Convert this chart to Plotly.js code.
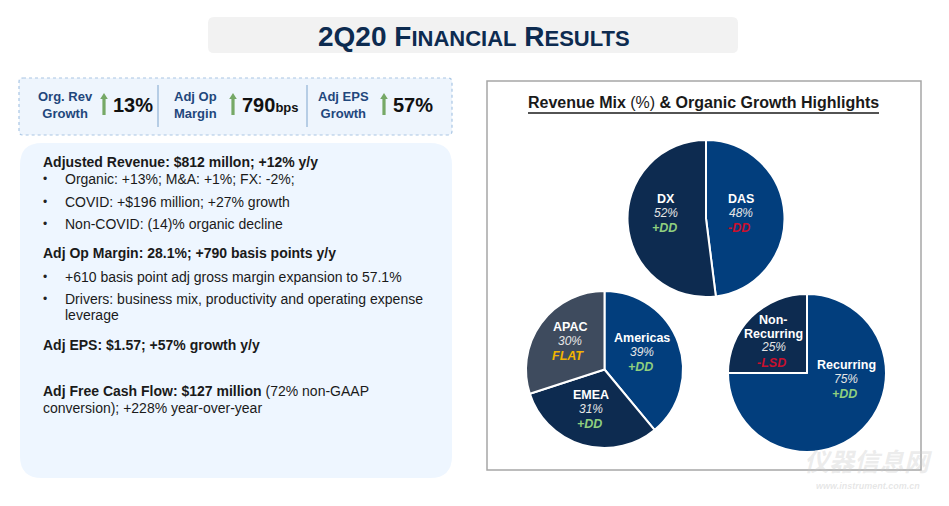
<!DOCTYPE html>
<html><head><meta charset="utf-8">
<script src="https://cdn.plot.ly/plotly-3.0.1.min.js"></script>
<style>html,body{margin:0;padding:0;background:#fff;}#chart{width:949px;height:506px;}</style>
</head><body><div id="chart"></div>
<script>
// ---------- data ----------
const segLabels = ['DAS', 'DX'];
const segValues = [48, 52];
const segGrowth = ['-DD', '+DD'];

const regionLabels = ['Americas', 'EMEA', 'APAC'];
const regionValues = [39, 31, 30];
const regionGrowth = ['+DD', '+DD', 'FLAT'];

const revTypeLabels = ['Recurring', 'Non-Recurring'];
const revTypeValues = [75, 25];
const revTypeGrowth = ['+DD', '-LSD'];

const kpiLabels = ['Org. Rev<br>Growth', 'Adj Op<br>Margin', 'Adj EPS<br>Growth'];
const kpiValues = ['13%', '790', '57%'];
const kpiUnits = ['', 'bps', ''];

const pageTitle = '2Q20 F<span style="font-size:22px">INANCIAL</span> R<span style="font-size:22px">ESULTS</span>';
const panelTitle = '<b>Revenue Mix</b> (%) <b>& Organic Growth Highlights</b>';

const bodyLines = [
  {t: '<b>Adjusted Revenue: $812 millon; +12% y/y</b>', y: 162},
  {t: 'Organic: +13%; M&A: +1%; FX: -2%;', y: 179, bullet: true},
  {t: 'COVID: +$196 million; +27% growth', y: 202, bullet: true},
  {t: 'Non-COVID: (14)% organic decline', y: 224, bullet: true},
  {t: '<b>Adj Op Margin: 28.1%; +790 basis points y/y</b>', y: 253},
  {t: '+610 basis point adj gross margin expansion to 57.1%', y: 277, bullet: true},
  {t: 'Drivers: business mix, productivity and operating expense', y: 299, bullet: true},
  {t: 'leverage', y: 315, indent: true},
  {t: '<b>Adj EPS: $1.57; +57% growth y/y</b>', y: 345},
  {t: '<b>Adj Free Cash Flow: $127 million</b> (72% non-GAAP', y: 391},
  {t: 'conversion); +228% year-over-year', y: 408}
];

// ---------- layout helpers ----------
const W = 949, H = 506;
const px = x => x / W;
const py = y => 1 - y / H;
const FONT = 'Liberation Sans, Arial, sans-serif';
const NAVY = '#0d2b50', BLUE = '#023e7d', SLATE = '#3e4b5e';
const growthColor = g => g === 'FLAT' ? '#f2b400' : (g.charAt(0) === '-' ? '#c8102e' : '#8fcf7f');

function roundRect(x0, y0, x1, y1, r) {
  const P = (x, y) => px(x) + ',' + py(y);
  return 'M' + P(x0 + r, y0) + ' L' + P(x1 - r, y0) + ' Q' + P(x1, y0) + ' ' + P(x1, y0 + r) +
    ' L' + P(x1, y1 - r) + ' Q' + P(x1, y1) + ' ' + P(x1 - r, y1) +
    ' L' + P(x0 + r, y1) + ' Q' + P(x0, y1) + ' ' + P(x0, y1 - r) +
    ' L' + P(x0, y0 + r) + ' Q' + P(x0, y0) + ' ' + P(x0 + r, y0) + ' Z';
}

const shapes = [];
const annotations = [];
function ann(text, x, y, opts) {
  annotations.push(Object.assign({
    text: text, x: px(x), y: py(y), xref: 'paper', yref: 'paper',
    showarrow: false, xanchor: 'center', yanchor: 'middle',
    font: {family: FONT, size: 13, color: '#1a1a1a'}
  }, opts || {}));
}

// title box
shapes.push({type: 'path', path: roundRect(208, 17, 738, 53, 6), xref: 'paper', yref: 'paper',
  fillcolor: '#f2f2f2', line: {width: 0}, layer: 'below'});
ann('<b>' + pageTitle + '</b>', 474, 36, {font: {family: FONT, size: 28, color: '#0d2b50'}});

// KPI box
shapes.push({type: 'path', path: roundRect(19, 78, 452, 135, 4), xref: 'paper', yref: 'paper',
  fillcolor: '#eef5fd', line: {color: '#a9c6e4', width: 1.2, dash: 'dot'}, layer: 'below'});
const kpiLabelX = [65, 195, 343];
const kpiArrowX = [104, 233, 384];
const kpiValueX = [111, 240, 391];
[158, 307].forEach(x => shapes.push({type: 'line', xref: 'paper', yref: 'paper',
  x0: px(x), x1: px(x), y0: py(85), y1: py(127), line: {color: '#a3bfdc', width: 1.5}}));
kpiLabels.forEach((lab, i) => {
  ann('<b>' + lab + '</b>', kpiLabelX[i], 105, {font: {family: FONT, size: 13, color: '#1f477c'}});
  const a = kpiArrowX[i];
  const P = (x, y) => px(x) + ',' + py(y);
  shapes.push({type: 'path', xref: 'paper', yref: 'paper', fillcolor: '#76a866', line: {width: 0},
    path: 'M' + P(a - 1.6, 115) + ' L' + P(a - 1.6, 99) + ' L' + P(a - 3.8, 99) + ' L' + P(a, 93) +
      ' L' + P(a + 3.8, 99) + ' L' + P(a + 1.6, 99) + ' L' + P(a + 1.6, 115) + ' Z'});
  const unit = kpiUnits[i] ? '<span style="font-size:13px">' + kpiUnits[i] + '</span>' : '';
  ann('<b>' + kpiValues[i] + unit + '</b>', kpiValueX[i], 105,
    {xanchor: 'left', font: {family: FONT, size: 20, color: '#111111'}});
});

// body box
shapes.push({type: 'path', path: roundRect(20, 143, 452, 478, 22), xref: 'paper', yref: 'paper',
  fillcolor: '#eef6ff', line: {width: 0}, layer: 'below'});
bodyLines.forEach(l => {
  if (l.bullet) ann('•', 45, l.y, {xanchor: 'center', font: {family: FONT, size: 12, color: '#222'}});
  ann(l.t, (l.bullet || l.indent) ? 63 : 41, l.y, {xanchor: 'left', align: 'left',
    font: {family: FONT, size: 14, color: '#1a1a1a'}});
});

// right panel
shapes.push({type: 'rect', xref: 'paper', yref: 'paper', x0: px(487), x1: px(921), y0: py(470), y1: py(81),
  fillcolor: '#ffffff', line: {color: '#a6a6a6', width: 1.5}, layer: 'below'});
ann(panelTitle, 703.5, 103, {font: {family: FONT, size: 16, color: '#1a1a1a'}});
shapes.push({type: 'line', xref: 'paper', yref: 'paper', x0: px(528), x1: px(879), y0: py(113), y1: py(113),
  line: {color: '#1a1a1a', width: 1.3}});

// pies
const pies = [
  {labels: segLabels, values: segValues, growth: segGrowth, colors: [BLUE, NAVY], cx: 706, cy: 218.5, r: 78.5,
    textPos: [[741, 199], [666, 199]]},
  {labels: regionLabels, values: regionValues, growth: regionGrowth, colors: [BLUE, NAVY, SLATE], cx: 604.5, cy: 369.5, r: 78.5,
    textPos: [[642, 338], [591, 395], [570, 327]]},
  {labels: revTypeLabels, values: revTypeValues, growth: revTypeGrowth, colors: [BLUE, NAVY], cx: 807, cy: 373, r: 79,
    textPos: [[846, 365], [773, 320]]}
];

const traces = pies.map(p => ({
  type: 'pie', labels: p.labels, values: p.values, sort: false, direction: 'clockwise', rotation: 0,
  textinfo: 'none', hoverinfo: 'label+percent',
  marker: {colors: p.colors, line: {color: '#ffffff', width: 2}},
  domain: {x: [px(p.cx - p.r), px(p.cx + p.r)], y: [py(p.cy + p.r), py(p.cy - p.r)]}
}));

pies.forEach(p => {
  p.labels.forEach((lab, i) => {
    let [x, y] = p.textPos[i];
    lab.replace('Non-', 'Non-\n').split('\n').forEach((part, k) => {
      ann('<b>' + part + '</b>', x, y, {font: {family: FONT, size: 12.5, color: '#ffffff'}});
      y += 13.5;
    });
    ann('<i>' + p.values[i] + '%</i>', x, y, {font: {family: FONT, size: 12, color: '#e6e6e6'}});
    y += 15.5;
    ann('<b><i>' + p.growth[i] + '</i></b>', x - 2, y, {font: {family: FONT, size: 12.5, color: growthColor(p.growth[i])}});
  });
});

// watermark
ann('<b><i>仪器信息网</i></b>', 868, 460, {font: {family: 'Noto Sans CJK SC', size: 25, color: 'rgba(200,200,200,0.35)'}});
ann('<b><i>www.instrument.com.cn</i></b>', 868, 486, {font: {family: FONT, size: 9, color: 'rgba(200,200,200,0.45)'}});

const layout = {
  width: W, height: H, margin: {l: 0, r: 0, t: 0, b: 0},
  paper_bgcolor: '#ffffff', showlegend: false,
  shapes: shapes, annotations: annotations
};
Plotly.newPlot('chart', traces, layout, {displayModeBar: false, staticPlot: true});
</script>
</body></html>
